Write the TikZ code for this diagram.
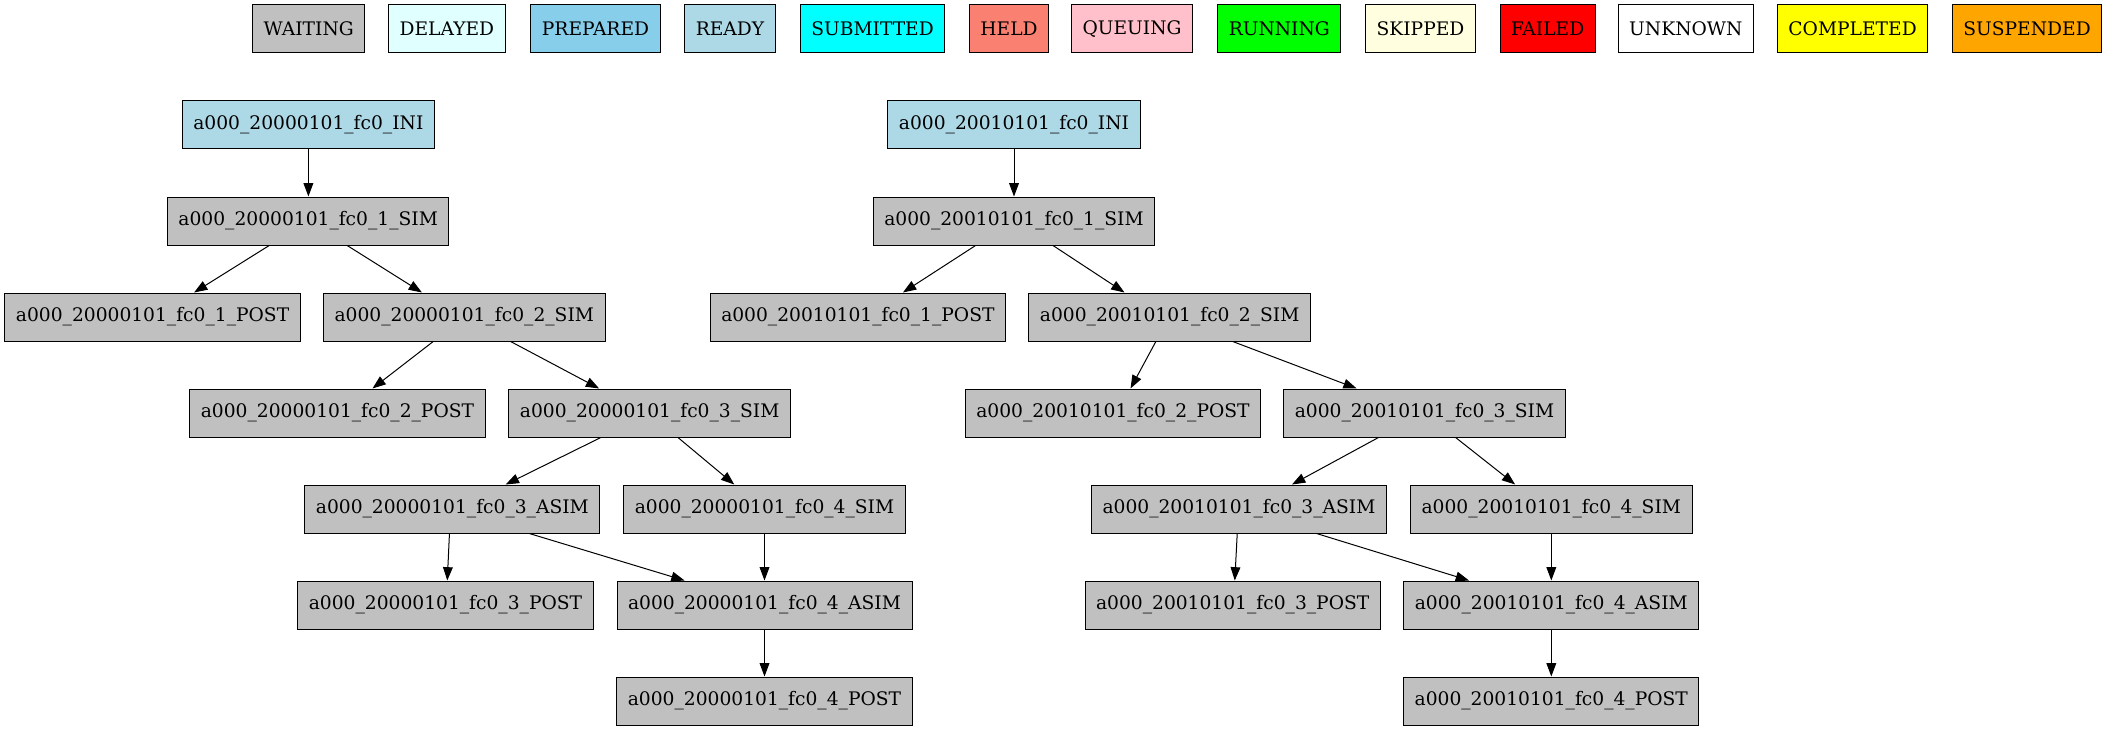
\documentclass[tikz,border=0pt]{standalone}
\usepackage{fontspec}
\setmainfont{DejaVu Serif}
\usetikzlibrary{arrows.meta,calc}
\definecolor{cgray}{HTML}{C0C0C0}
\definecolor{clightcyan}{HTML}{E0FFFF}
\definecolor{cskyblue}{HTML}{87CEEB}
\definecolor{clightblue}{HTML}{ADD8E6}
\definecolor{ccyan}{HTML}{00FFFF}
\definecolor{csalmon}{HTML}{FA8072}
\definecolor{cpink}{HTML}{FFC0CB}
\definecolor{cgreen}{HTML}{00FF00}
\definecolor{clightyellow}{HTML}{FFFFE0}
\definecolor{cred}{HTML}{FF0000}
\definecolor{cyellow}{HTML}{FFFF00}
\definecolor{corange}{HTML}{FFA500}
\newcommand\myedge[4]{\draw[jobedge] ($(#1.south west)!#2!(#1.south east)$) -- ($(#3.north west)!#4!(#3.north east)$);}
\tikzset{
  box/.style={draw=black, line width=0.75pt, rectangle, minimum height=36pt, minimum width=54pt,
    inner xsep=8.25pt, inner ysep=0pt, font=\fontsize{14}{16.8}\selectfont, anchor=center},
  job/.style={box, fill=cgray},
  inijob/.style={box, fill=clightblue},
  jobedge/.style={draw=black, line width=0.75pt, -{Triangle[length=10pt,width=7.3pt]}}
}
\begin{document}
\begin{tikzpicture}[x=0.75pt,y=-0.75pt]
\fill[white] (0,0) rectangle (2108,731);
\useasboundingbox (0,0) rectangle (2108,731);
% legend
\node[box, fill=cgray] (lwaiting) at (308.65,29) {WAITING};
\node[box, fill=clightcyan] (ldelayed) at (446.85,29) {DELAYED};
\node[box, fill=cskyblue] (lprepared) at (595.5,29) {PREPARED};
\node[box, fill=clightblue] (lready) at (730,29) {READY};
\node[box, fill=ccyan] (lsubmitted) at (872.55,29) {SUBMITTED};
\node[box, fill=csalmon] (lheld) at (1009,29) {HELD};
\node[box, fill=cpink] (lqueuing) at (1132,29) {QUEUING};
\node[box, fill=cgreen] (lrunning) at (1279.3,29) {RUNNING};
\node[box, fill=clightyellow] (lskipped) at (1420.5,29) {SKIPPED};
\node[box, fill=cred] (lfailed) at (1547.65,29) {FAILED};
\node[box, fill=white] (lunknown) at (1685.8,29) {UNKNOWN};
\node[box, fill=cyellow] (lcompleted) at (1852.6,29) {COMPLETED};
\node[box, fill=corange] (lsuspended) at (2027,29) {SUSPENDED};
% left tree
\node[inijob] (aini) at (308.4,125) {a000\_20000101\_fc0\_INI};
\node[job] (a1sim) at (308.2,221) {a000\_20000101\_fc0\_1\_SIM};
\node[job] (a1post) at (152.6,317) {a000\_20000101\_fc0\_1\_POST};
\node[job] (a2sim) at (464.3,317) {a000\_20000101\_fc0\_2\_SIM};
\node[job] (a2post) at (337.5,413) {a000\_20000101\_fc0\_2\_POST};
\node[job] (a3sim) at (649.7,413) {a000\_20000101\_fc0\_3\_SIM};
\node[job] (a3asim) at (452.4,509) {a000\_20000101\_fc0\_3\_ASIM};
\node[job] (a4sim) at (764.5,509) {a000\_20000101\_fc0\_4\_SIM};
\node[job] (a3post) at (445.5,605) {a000\_20000101\_fc0\_3\_POST};
\node[job] (a4asim) at (764.5,605) {a000\_20000101\_fc0\_4\_ASIM};
\node[job] (a4post) at (764.5,701) {a000\_20000101\_fc0\_4\_POST};
% right tree
\node[inijob] (bini) at (1014,125) {a000\_20010101\_fc0\_INI};
\node[job] (b1sim) at (1014,221) {a000\_20010101\_fc0\_1\_SIM};
\node[job] (b1post) at (857.9,317) {a000\_20010101\_fc0\_1\_POST};
\node[job] (b2sim) at (1169.7,317) {a000\_20010101\_fc0\_2\_SIM};
\node[job] (b2post) at (1113,413) {a000\_20010101\_fc0\_2\_POST};
\node[job] (b3sim) at (1424.5,413) {a000\_20010101\_fc0\_3\_SIM};
\node[job] (b3asim) at (1239,509) {a000\_20010101\_fc0\_3\_ASIM};
\node[job] (b4sim) at (1551.3,509) {a000\_20010101\_fc0\_4\_SIM};
\node[job] (b3post) at (1232.7,605) {a000\_20010101\_fc0\_3\_POST};
\node[job] (b4asim) at (1551.3,605) {a000\_20010101\_fc0\_4\_ASIM};
\node[job] (b4post) at (1551.3,701) {a000\_20010101\_fc0\_4\_POST};
% left edges
\draw[jobedge] (aini.south) -- (aini.south |- a1sim.north);
\myedge{a1sim}{0.362}{a1post}{0.64}
\myedge{a1sim}{0.638}{a2sim}{0.35}
\myedge{a2sim}{0.39}{a2post}{0.618}
\myedge{a2sim}{0.664}{a3sim}{0.321}
\myedge{a3sim}{0.327}{a3asim}{0.68}
\myedge{a3sim}{0.6}{a4sim}{0.393}
\myedge{a3asim}{0.49}{a3post}{0.506}
\myedge{a3asim}{0.76}{a4asim}{0.23}
\draw[jobedge] (a4sim.south) -- (a4asim.north);
\draw[jobedge] (a4asim.south) -- (a4post.north);
% right edges
\draw[jobedge] (bini.south) -- (bini.south |- b1sim.north);
\myedge{b1sim}{0.364}{b1post}{0.652}
\myedge{b1sim}{0.638}{b2sim}{0.34}
\myedge{b2sim}{0.451}{b2post}{0.559}
\myedge{b2sim}{0.723}{b3sim}{0.26}
\myedge{b3sim}{0.337}{b3asim}{0.679}
\myedge{b3sim}{0.61}{b4sim}{0.372}
\myedge{b3asim}{0.494}{b3post}{0.507}
\myedge{b3asim}{0.762}{b4asim}{0.222}
\draw[jobedge] (b4sim.south) -- (b4asim.north);
\draw[jobedge] (b4asim.south) -- (b4post.north);
\end{tikzpicture}
\end{document}
